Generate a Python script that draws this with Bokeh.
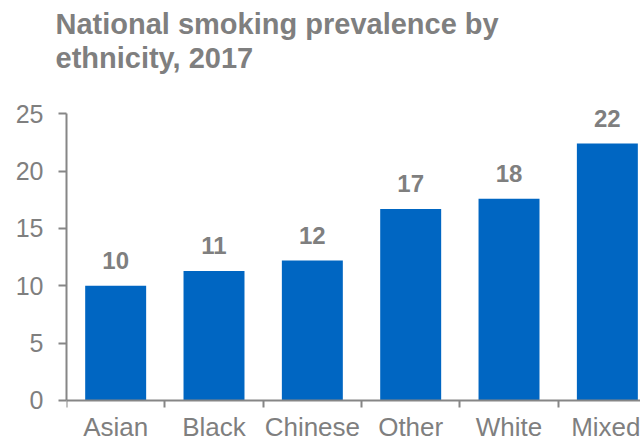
from bokeh.plotting import figure
from bokeh.models import Range1d, FixedTicker, ColumnDataSource, LabelSet, Title
from bokeh.core.properties import value
from bokeh.embed import file_html
from bokeh.resources import INLINE

categories = ["Asian", "Black", "Chinese", "Other", "White", "Mixed"]
prevalence = [10.0, 11.3, 12.2, 16.7, 17.6, 22.4]
bar_labels = ["10", "11", "12", "17", "18", "22"]
y_ticks = [0, 5, 10, 15, 20, 25]

GREY = "#7f7f7f"
AXIS = "#868686"
BLUE = "#0066C2"
FONT = "Liberation Sans"

xs = [i + 0.5 for i in range(len(categories))]
src = ColumnDataSource(dict(x=xs, top=prevalence, label=bar_labels))

p = figure(width=640, height=443, output_backend="svg", toolbar_location=None, title=None,
           x_range=Range1d(0, 5.837), y_range=Range1d(-3.75, 28.51),
           min_border_left=66, min_border_right=0, min_border_top=73, min_border_bottom=0)

p.xgrid.visible = False
p.ygrid.visible = False
p.outline_line_color = None
p.background_fill_color = "white"
p.border_fill_color = "white"

p.vbar(x="x", top="top", bottom=0, width=0.62, source=src, fill_color=BLUE, line_color=None)

p.add_layout(LabelSet(x="x", y="top", text="label", source=src, y_offset=17,
                      text_align="center", text_baseline="alphabetic",
                      text_font_size="24px", text_font_style="bold",
                      text_color=GREY, text_font=value(FONT)))

xa = p.xaxis[0]
xa.fixed_location = 0
xa.ticker = FixedTicker(ticks=xs, minor_ticks=list(range(0, 7)))
xa.major_label_overrides = {x: c for x, c in zip(xs, categories)}
xa.major_tick_out = 0
xa.major_tick_in = 0
xa.major_tick_line_color = None
xa.minor_tick_out = 7
xa.minor_tick_in = 0
xa.minor_tick_line_color = AXIS
xa.minor_tick_line_width = 2
xa.axis_line_color = AXIS
xa.axis_line_width = 2
xa.major_label_text_font_size = "26px"
xa.major_label_text_color = GREY
xa.major_label_text_font = FONT
xa.major_label_standoff = 5

ya = p.yaxis[0]
ya.ticker = FixedTicker(ticks=y_ticks, minor_ticks=[])
ya.bounds = (0, 25)
ya.major_tick_out = 8
ya.major_tick_in = 0
ya.major_tick_line_color = AXIS
ya.major_tick_line_width = 2
ya.axis_line_color = AXIS
ya.axis_line_width = 2
ya.major_label_text_font_size = "25px"
ya.major_label_text_color = GREY
ya.major_label_text_font = FONT
ya.major_label_standoff = 15

t2 = Title(text="ethnicity, 2017", align="left", offset=-11, standoff=0,
           text_font_size="29px", text_font_style="bold", text_color=GREY, text_font=FONT)
p.add_layout(t2, "above")
t1 = Title(text="National smoking prevalence by", align="left", offset=-11, standoff=0,
           text_font_size="29px", text_font_style="bold", text_color=GREY, text_font=FONT)
p.add_layout(t1, "above")

open("out.html", "w").write(file_html(p, INLINE))
